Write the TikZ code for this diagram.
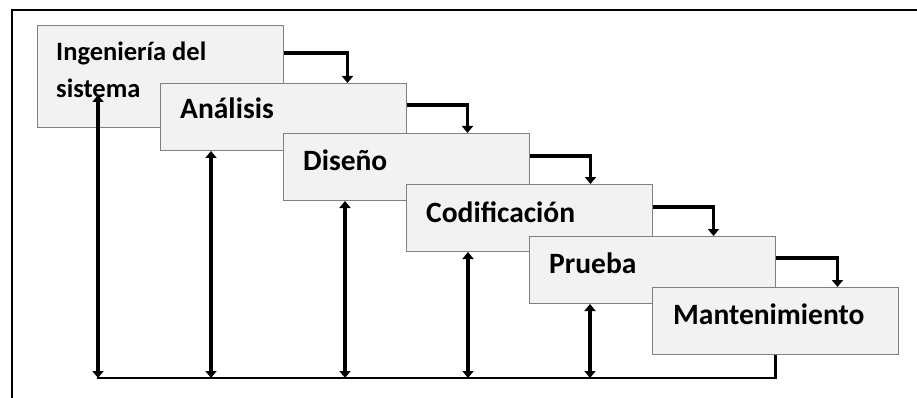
\documentclass[tikz,border=0pt]{standalone}
\usepackage{fontspec}
\setmainfont{Carlito}
\usetikzlibrary{arrows.meta,calc}
\begin{document}
\begin{tikzpicture}[x=1pt,y=-1pt,
  stage/.style={draw=black!50,line width=1pt,fill=black!5,minimum width=246pt,
    minimum height=67pt,inner sep=0pt,anchor=north west},
  label/.style={anchor=base west,inner sep=0pt,font=\bfseries\fontsize{29.5}{29.5}\selectfont},
  smalllabel/.style={label,font=\bfseries\fontsize{26.5}{26.5}\selectfont},
  flow/.style={line width=3.4pt,-{Triangle[width=11pt,length=7pt]}},
  back/.style={line width=3.6pt,{Triangle[width=11pt,length=7pt]}-{Triangle[width=11pt,length=7pt]}},
  base/.style={line width=2.8pt}]
\useasboundingbox (0,0) rectangle (917,398);
% frame
\draw[line width=2.2pt] (11,10) -- (917,10);
\draw[line width=1.5pt] (12,10) -- (12,398);
% stages
\node[stage,minimum height=102pt] (b1) at (37,25) {};
\node[stage] (b2) at (160,83) {};
\node[stage] (b3) at (283,133) {};
\node[stage] (b4) at (406,184) {};
\node[stage] (b5) at (529,236) {};
\node[stage] (b6) at (652,287) {};
% stage names
\node[smalllabel] (t1) at ($(b1.north west)+(19,36)$) {Ingeniería del};
\node[smalllabel] (t1b) at ($(b1.north west)+(19,73)$) {sistema};
\node[label] (t2) at ($(b2.north west)+(20,36)$) {Análisis};
\node[label] (t3) at ($(b3.north west)+(20,38)$) {Diseño};
\node[label] (t4) at ($(b4.north west)+(20,38)$) {Codificación};
\node[label] (t5) at ($(b5.north west)+(20,37)$) {Prueba};
\node[label] (t6) at ($(b6.north west)+(21,37)$) {Mantenimiento};
% forward flow between stages
\draw[flow] ([yshift=-28pt]b1.north east) -| ([xshift=64pt]b2.north);
\draw[flow] ([yshift=-22pt]b2.north east) -| ([xshift=61pt]b3.north);
\draw[flow] ([yshift=-23pt]b3.north east) -| ([xshift=61pt]b4.north);
\draw[flow] ([yshift=-23pt]b4.north east) -| ([xshift=61pt]b5.north);
\draw[flow] ([yshift=-22pt]b5.north east) -| ([xshift=62pt]b6.north);
% feedback line
\coordinate (fl) at (97,378);
\coordinate (fr) at (b6.south |- fl);
\draw[base] (fl) -- (fr) -- (b6.south);
\draw[back] ([xshift=61pt,yshift=33pt]b1.south west) -- ([xshift=61pt]b1.south west |- fl);
\draw[back] ([xshift=51pt]b2.south west) -- ([xshift=51pt]b2.south west |- fl);
\draw[back] ([xshift=62pt]b3.south west) -- ([xshift=62pt]b3.south west |- fl);
\draw[back] ([xshift=62pt]b4.south west) -- ([xshift=62pt]b4.south west |- fl);
\draw[back] ([xshift=61pt]b5.south west) -- ([xshift=61pt]b5.south west |- fl);
\end{tikzpicture}
\end{document}
